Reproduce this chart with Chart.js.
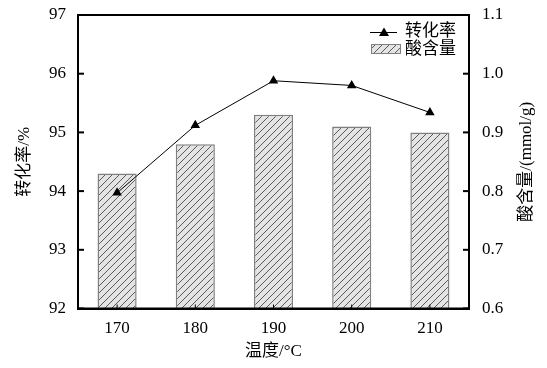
<!DOCTYPE html>
<html>
<head>
<meta charset="utf-8">
<script src="https://cdn.jsdelivr.net/npm/chart.js@4.4.0/dist/chart.umd.min.js"></script>
<style>
  html, body { margin: 0; padding: 0; background: #fff; }
</style>
</head>
<body>
<canvas id="chart" width="547" height="368"></canvas>
<script>
// data
const categories = ['170', '180', '190', '200', '210'];
const conversion = [93.97, 95.12, 95.88, 95.80, 95.34];   // 转化率 /%
const acidContent = [0.83, 0.88, 0.93, 0.91, 0.90];       // 酸含量 /(mmol/g)
const leftTicks = [92, 93, 94, 95, 96, 97];
const rightTicks = [0.6, 0.7, 0.8, 0.9, 1.0, 1.1];

const serif = '"Liberation Serif", "Noto Sans CJK SC", serif';

// hatch fill for the bars
function makeHatch() {
    const c = document.createElement('canvas');
    c.width = 7; c.height = 7;
    const g = c.getContext('2d');
    g.fillStyle = '#e4e4e4';
    g.fillRect(0, 0, 7, 7);
    g.strokeStyle = '#5a5a5a';
    g.lineWidth = 1;
    g.beginPath();
    g.moveTo(-1, 8); g.lineTo(8, -1);
    g.moveTo(-1, 1); g.lineTo(1, -1);
    g.moveTo(6, 8); g.lineTo(8, 6);
    g.stroke();
    return g.createPattern(c, 'repeat');
}
const hatch = makeHatch();

// frame, inward ticks, axis titles and legend
const decorations = {
    id: 'decorations',
    afterDraw(chart) {
        const ctx = chart.ctx;
        const a = chart.chartArea;
        ctx.save();
        ctx.fillStyle = '#000';
        ctx.fillRect(a.left - 1, a.top - 1, a.right - a.left + 2, 2);
        ctx.fillRect(a.left - 1, a.bottom - 1, a.right - a.left + 2, 2);
        ctx.fillRect(a.left - 1, a.top - 1, 2, a.bottom - a.top + 2);
        ctx.fillRect(a.right - 1, a.top - 1, 2, a.bottom - a.top + 2);
        leftTicks.forEach(v => {
            const p = chart.scales.y.getPixelForValue(v);
            ctx.fillRect(a.left, p - 1, 6, 2);
        });
        rightTicks.forEach(v => {
            const p = chart.scales.y1.getPixelForValue(v);
            ctx.fillRect(a.right - 6, p - 1, 6, 2);
        });
        categories.forEach((c, i) => {
            const p = chart.scales.x.getPixelForValue(i);
            ctx.fillRect(p - 0.5, a.bottom - 4, 1, 4);
        });

        // axis titles
        ctx.font = '17px ' + serif;
        ctx.textAlign = 'center';
        ctx.textBaseline = 'middle';
        const midY = (a.top + a.bottom) / 2;
        ctx.save();
        ctx.translate(25, midY);
        ctx.rotate(-Math.PI / 2);
        ctx.fillText('转化率/%', 0, 0);
        ctx.restore();
        ctx.save();
        ctx.translate(527, midY);
        ctx.rotate(-Math.PI / 2);
        ctx.fillText('酸含量/(mmol/g)', 0, 0);
        ctx.restore();
        ctx.fillText('温度/°C', (a.left + a.right) / 2, 352);

        // legend
        ctx.fillRect(370, 32, 27, 1);
        ctx.beginPath();
        ctx.moveTo(384, 27.5); ctx.lineTo(389, 36); ctx.lineTo(379, 36);
        ctx.closePath();
        ctx.fill();
        ctx.fillStyle = hatch;
        ctx.fillRect(371, 44, 30, 10);
        ctx.strokeStyle = '#808080';
        ctx.lineWidth = 1;
        ctx.strokeRect(371.5, 44.5, 29, 9);
        ctx.fillStyle = '#000';
        ctx.textAlign = 'left';
        ctx.fillText('转化率', 405, 32);
        ctx.fillText('酸含量', 405, 49.5);
        ctx.restore();
    }
};

new Chart(document.getElementById('chart'), {
    data: {
        labels: categories,
        datasets: [{
            type: 'line',
            label: '转化率',
            data: conversion,
            yAxisID: 'y',
            borderColor: '#000',
            borderWidth: 1,
            backgroundColor: '#000',
            pointStyle: 'triangle',
            pointRadius: 5.5,
            pointBorderWidth: 0,
            tension: 0,
            order: 0
        }, {
            type: 'bar',
            label: '酸含量',
            data: acidContent,
            yAxisID: 'y1',
            backgroundColor: hatch,
            borderColor: '#808080',
            borderWidth: 1.5,
            categoryPercentage: 1,
            barPercentage: 0.5,
            order: 1
        }]
    },
    options: {
        responsive: false,
        animation: false,
        layout: { padding: { top: 15, left: 0, right: 0, bottom: 0 } },
        plugins: {
            legend: { display: false },
            tooltip: { enabled: false }
        },
        scales: {
            x: {
                offset: true,
                grid: { display: false, drawTicks: false },
                border: { display: true, color: '#000', width: 2 },
                ticks: { color: '#000', font: { family: serif, size: 17 }, padding: 10 },
                afterFit(s) { s.height = 59.5; s.paddingLeft = 0; s.paddingRight = 0; }
            },
            y: {
                position: 'left',
                min: 92, max: 97,
                grid: { display: false, drawTicks: false },
                border: { display: true, color: '#000', width: 2 },
                ticks: { color: '#000', padding: 12, font: { family: serif, size: 17 } },
                afterBuildTicks(s) { s.ticks = leftTicks.map(v => ({ value: v })); },
                afterFit(s) { s.width = 78; s.paddingTop = 0; s.paddingBottom = 0; }
            },
            y1: {
                position: 'right',
                min: 0.6, max: 1.1,
                grid: { display: false, drawTicks: false },
                border: { display: true, color: '#000', width: 2 },
                ticks: {
                    color: '#000', padding: 13,
                    font: { family: serif, size: 17 },
                    callback: v => Number(v).toFixed(1)
                },
                afterBuildTicks(s) { s.ticks = rightTicks.map(v => ({ value: v })); },
                afterFit(s) { s.width = 78; s.paddingTop = 0; s.paddingBottom = 0; }
            }
        }
    },
    plugins: [decorations]
});
</script>
</body>
</html>
